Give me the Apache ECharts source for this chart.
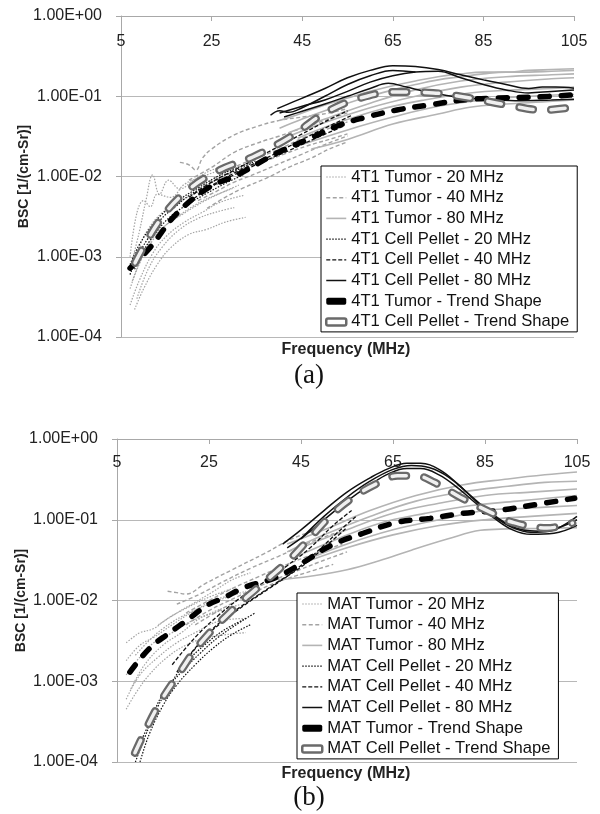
<!DOCTYPE html>
<html>
<head>
<meta charset="utf-8">
<script src="https://cdn.jsdelivr.net/npm/echarts@6/dist/echarts.min.js"></script>
<style>
  html, body { margin: 0; padding: 0; background: #fff; }
  #chart { width: 600px; height: 814px; }
</style>
</head>
<body>
<div id="chart"></div>
<script>
// axis ticks
const freqTicks = [5, 25, 45, 65, 85, 105];
const bscTickLabels = ['1.00E-04', '1.00E-03', '1.00E-02', '1.00E-01', '1.00E+00'];

// ---- panel (a): 4T1, [freq MHz, BSC] per curve ----
const tumor20A = [
  [[7, 0.0007], [9, 0.002], [10.5, 0.005], [12, 0.0105], [13.5, 0.006], [15.5, 0.009], [18, 0.007], [21, 0.009], [25, 0.012], [29, 0.014]],
  [[7, 0.001], [8.5, 0.0035], [10, 0.005], [11.5, 0.0042], [13, 0.006], [16, 0.0055], [19, 0.008], [23, 0.01], [27, 0.012]],
  [[7, 0.0004], [9, 0.0008], [12, 0.0016], [15, 0.0025], [19, 0.0035], [23, 0.0048], [27, 0.0062], [31, 0.0078]],
  [[7, 0.00025], [9, 0.0005], [12, 0.0011], [15, 0.0018], [19, 0.0027], [23, 0.0036], [27, 0.0048], [32, 0.0058]],
  [[8, 0.00022], [10, 0.0004], [13, 0.0008], [16, 0.0013], [20, 0.0019], [24, 0.0022], [28, 0.0027], [32.5, 0.0031]],
  [[7.5, 0.0005], [10, 0.0011], [13, 0.002], [17, 0.003], [21, 0.0043], [25, 0.0056], [30, 0.0072]],
  [[8.5, 0.0003], [11, 0.0007], [14, 0.0013], [18, 0.0022], [22, 0.003], [26, 0.0036], [30, 0.0041]],
  [[7, 0.0006], [9, 0.0013], [11, 0.0022], [14, 0.0035], [17, 0.0045], [21, 0.006], [25, 0.0075], [29, 0.009]]
];
const tumor40A = [
  [[18, 0.015], [20, 0.014], [21.5, 0.012], [23, 0.017], [25, 0.022], [30, 0.033], [35, 0.042], [40, 0.05], [46, 0.056], [51, 0.062], [55, 0.07]],
  [[20, 0.009], [25, 0.013], [30, 0.02], [35, 0.026], [40, 0.032], [45, 0.04], [50, 0.05], [55, 0.062]],
  [[21, 0.006], [25, 0.009], [30, 0.013], [35, 0.017], [40, 0.022], [45, 0.03], [50, 0.038], [55, 0.048]],
  [[22, 0.005], [26, 0.0065], [30, 0.0085], [35, 0.011], [40, 0.0145], [45, 0.019], [50, 0.025], [55, 0.032]],
  [[24, 0.004], [28, 0.0055], [32, 0.0072], [37, 0.0095], [42, 0.013], [47, 0.017], [51, 0.022], [55, 0.027]],
  [[22, 0.007], [26, 0.009], [31, 0.012], [36, 0.015], [41, 0.019], [46, 0.024], [51, 0.029], [55, 0.034]]
];
const tumor80A = [
  [[40, 0.05], [45, 0.062], [50, 0.078], [55, 0.095], [60, 0.115], [65, 0.135], [70, 0.155], [75, 0.175], [80, 0.19], [85, 0.2], [90, 0.2], [95, 0.21], [100, 0.215], [105, 0.22]],
  [[40, 0.04], [45, 0.052], [50, 0.066], [55, 0.082], [60, 0.1], [65, 0.12], [70, 0.14], [75, 0.16], [80, 0.175], [85, 0.19], [90, 0.2], [95, 0.2], [100, 0.205], [105, 0.21]],
  [[42, 0.035], [50, 0.052], [60, 0.082], [70, 0.12], [80, 0.155], [90, 0.175], [100, 0.185], [105, 0.19]],
  [[41, 0.03], [50, 0.047], [60, 0.072], [70, 0.1], [80, 0.13], [90, 0.15], [100, 0.165], [105, 0.17]],
  [[44, 0.03], [52, 0.045], [62, 0.068], [72, 0.09], [82, 0.11], [92, 0.12], [100, 0.125], [105, 0.13]],
  [[45, 0.025], [55, 0.038], [65, 0.055], [75, 0.075], [85, 0.09], [95, 0.1], [105, 0.105]],
  [[47, 0.022], [55, 0.029], [65, 0.045], [75, 0.06], [82, 0.073], [90, 0.08], [98, 0.085], [105, 0.09]]
];
const pellet20A = [
  [[7, 0.0006], [9, 0.0011], [11, 0.0017], [14, 0.003], [17, 0.0042], [20, 0.0058], [24, 0.0078], [28, 0.0105], [32, 0.013], [35, 0.016]],
  [[7, 0.0008], [9, 0.0014], [12, 0.0025], [15, 0.0038], [18, 0.0052], [22, 0.0072], [26, 0.0098], [30, 0.0125], [34, 0.015]],
  [[8, 0.0007], [10, 0.0012], [13, 0.0021], [16, 0.0032], [20, 0.0046], [24, 0.0062], [28, 0.0082], [32, 0.0105]]
];
const pellet40A = [
  [[20, 0.0055], [25, 0.0085], [30, 0.012], [35, 0.017], [40, 0.024], [45, 0.034], [50, 0.048], [55, 0.066]],
  [[22, 0.006], [27, 0.009], [32, 0.0125], [38, 0.018], [44, 0.027], [50, 0.04], [56, 0.058]],
  [[20, 0.0048], [25, 0.0075], [30, 0.0105], [36, 0.015], [42, 0.021], [48, 0.03], [54, 0.042]]
];
const pellet80A = [
  [[39.5, 0.07], [43, 0.085], [46, 0.1], [50, 0.125], [55, 0.17], [60, 0.21], [65, 0.24], [70, 0.235], [75, 0.215], [80, 0.185], [85, 0.16], [90, 0.14], [95, 0.125], [98, 0.13], [101, 0.13], [105, 0.126]],
  [[40, 0.062], [45, 0.075], [50, 0.09], [55, 0.115], [60, 0.15], [65, 0.18], [70, 0.2], [75, 0.205], [80, 0.17], [85, 0.14], [90, 0.12], [95, 0.11], [100, 0.115], [105, 0.12]],
  [[41, 0.055], [45, 0.065], [50, 0.08], [55, 0.1], [60, 0.125], [64, 0.145], [68, 0.13], [72, 0.115], [78, 0.1], [85, 0.092], [92, 0.088], [100, 0.09], [105, 0.092]],
  [[38, 0.058], [40, 0.066], [42, 0.063], [45, 0.072], [50, 0.1], [55, 0.14], [60, 0.18], [65, 0.21], [70, 0.2]]
];
const trendTumorA = [[7, 0.00072], [11.4, 0.0013], [17.4, 0.0035], [24.6, 0.0074], [30.6, 0.0104], [39.4, 0.0196], [47.4, 0.031], [53.3, 0.0438], [58.4, 0.0536], [65.9, 0.0674], [73.2, 0.078], [80.5, 0.0898], [88, 0.095], [96.8, 0.098], [104.8, 0.104]];
const trendPelletA = [[8.1, 0.00084], [13.6, 0.00287], [19.8, 0.0068], [26.9, 0.0121], [34.1, 0.0175], [42.3, 0.031], [50, 0.0618], [57.8, 0.095], [65.9, 0.113], [73.9, 0.11], [82, 0.095], [90.2, 0.078], [98.2, 0.0675], [104.8, 0.073]];

// ---- panel (b): MAT ----
const tumor20B = [
  [[7, 0.003], [8.5, 0.0035], [10, 0.004], [13, 0.0045], [16, 0.006], [20, 0.008], [25, 0.011], [30, 0.014]],
  [[7, 0.0018], [10, 0.0028], [13, 0.0035], [17, 0.005], [21, 0.007], [26, 0.01], [31, 0.012]],
  [[7, 0.0012], [10, 0.002], [13, 0.003], [17, 0.004], [21, 0.0055], [26, 0.007], [32, 0.009]],
  [[7, 0.0006], [10, 0.0012], [14, 0.002], [18, 0.003], [22, 0.004], [27, 0.0055], [33, 0.006]],
  [[7, 0.00045], [9, 0.0007], [12, 0.0012], [16, 0.002], [20, 0.0028], [25, 0.0035], [33, 0.004]],
  [[8, 0.0008], [11, 0.0016], [15, 0.0028], [19, 0.004], [23, 0.006], [28, 0.008]],
  [[9, 0.0021], [12, 0.0032], [15, 0.0045], [19, 0.0063], [24, 0.0085], [29, 0.011], [33, 0.013]],
  [[14, 0.005], [18, 0.007], [22, 0.0095], [26, 0.013], [30, 0.018], [34, 0.022]]
];
const tumor40B = [
  [[16, 0.013], [18, 0.0125], [20, 0.012], [24, 0.016], [30, 0.024], [37, 0.038], [43, 0.058], [50, 0.08]],
  [[18, 0.009], [23, 0.012], [28, 0.017], [34, 0.025], [40, 0.035], [46, 0.05], [53, 0.07]],
  [[20, 0.007], [25, 0.01], [30, 0.014], [36, 0.02], [42, 0.028], [48, 0.038], [54, 0.05]],
  [[20, 0.005], [25, 0.0075], [31, 0.011], [37, 0.016], [43, 0.022], [49, 0.03], [55, 0.04]],
  [[22, 0.005], [28, 0.008], [34, 0.012], [40, 0.017], [46, 0.022], [52, 0.028]]
];
const tumor80B = [
  [[42, 0.05], [50, 0.075], [60, 0.13], [70, 0.2], [80, 0.27], [90, 0.32], [98, 0.36], [105, 0.39]],
  [[42, 0.04], [50, 0.065], [60, 0.11], [70, 0.17], [80, 0.22], [90, 0.26], [98, 0.29], [105, 0.3]],
  [[45, 0.045], [55, 0.075], [65, 0.12], [75, 0.16], [85, 0.2], [95, 0.22], [105, 0.24]],
  [[44, 0.035], [52, 0.055], [62, 0.09], [72, 0.12], [82, 0.15], [92, 0.17], [105, 0.2]],
  [[45, 0.03], [55, 0.05], [65, 0.075], [75, 0.1], [85, 0.13], [95, 0.14], [105, 0.15]],
  [[46, 0.03], [55, 0.045], [65, 0.065], [75, 0.085], [85, 0.1], [95, 0.11], [105, 0.12]],
  [[40, 0.018], [47, 0.02], [55, 0.024], [62, 0.031], [69, 0.042], [77, 0.058], [84, 0.074], [90, 0.077], [97, 0.078], [105, 0.08]]
];
const pellet20B = [
  [[9, 0.0001], [11, 0.0002], [14, 0.0005], [17, 0.001], [20, 0.0017], [24, 0.0028], [28, 0.0042], [33, 0.006]],
  [[10, 0.0001], [12, 0.00022], [15, 0.0005], [18, 0.0009], [22, 0.0016], [26, 0.0026], [30, 0.0038], [34, 0.005]],
  [[9, 0.00013], [12, 0.0003], [15, 0.0007], [19, 0.0013], [23, 0.0022], [27, 0.0035], [32, 0.0055], [35, 0.007]]
];
const pellet40B = [
  [[17, 0.0016], [22, 0.0035], [27, 0.0065], [32, 0.011], [37, 0.017], [42, 0.027], [47, 0.045], [52, 0.085], [56, 0.13]],
  [[18, 0.0013], [23, 0.003], [28, 0.0055], [33, 0.009], [38, 0.014], [43, 0.022], [48, 0.038], [53, 0.07], [57, 0.11]],
  [[20, 0.0018], [25, 0.004], [30, 0.007], [35, 0.011], [40, 0.017], [45, 0.026], [50, 0.045], [55, 0.08]]
];
const pellet80B = [
  [[41, 0.05], [45, 0.075], [50, 0.13], [55, 0.22], [60, 0.33], [64, 0.43], [68, 0.5], [71, 0.5], [75, 0.42], [79, 0.28], [83, 0.17], [87, 0.11], [91, 0.08], [95, 0.07], [99, 0.072], [102, 0.085], [105, 0.11]],
  [[42, 0.045], [46, 0.065], [50, 0.1], [55, 0.17], [60, 0.27], [64, 0.37], [68, 0.43], [71, 0.43], [75, 0.36], [79, 0.25], [83, 0.16], [87, 0.105], [91, 0.075], [95, 0.066], [100, 0.068], [105, 0.085]],
  [[45, 0.058], [50, 0.11], [55, 0.19], [60, 0.3], [65, 0.42], [69, 0.47], [73, 0.44], [77, 0.34], [81, 0.22], [85, 0.14], [89, 0.095], [93, 0.075], [97, 0.072], [101, 0.08], [105, 0.1]]
];
const trendTumorB = [[7.8, 0.0013], [12.2, 0.0026], [16.5, 0.004], [20.2, 0.0057], [24.6, 0.0087], [28.5, 0.011], [32.8, 0.0146], [39.3, 0.019], [45.2, 0.029], [51.5, 0.048], [58.5, 0.068], [65.9, 0.093], [73, 0.104], [80.2, 0.12], [87.6, 0.13], [94.8, 0.15], [104.5, 0.185]];
const trendPelletB = [[8.9, 0.00013], [13.7, 0.00047], [18.7, 0.0013], [23, 0.0029], [29.6, 0.0072], [35.7, 0.0146], [42.2, 0.031], [47, 0.06], [52, 0.12], [57, 0.2], [62, 0.29], [66, 0.35], [70, 0.35], [74, 0.29], [79.6, 0.19], [86.7, 0.12], [91, 0.093], [98.5, 0.079], [104, 0.091]];

const GRAY = '#a3a3a3';
const BLACK = '#111';

const styles = {
  t20: { color: GRAY, width: 1.2, type: [1.5, 1.5] },
  t40: { color: GRAY, width: 1.4, type: [4, 2.5] },
  t80: { color: '#b4b4b4', width: 1.6, type: 'solid' },
  p20: { color: BLACK, width: 1.2, type: [1.5, 1.5] },
  p40: { color: BLACK, width: 1.3, type: [4, 2] },
  p80: { color: BLACK, width: 1.5, type: 'solid' }
};

function group(name, curves, idx, lineStyle) {
  return curves.map(c => ({
    name: name,
    type: 'line',
    xAxisIndex: idx,
    yAxisIndex: idx,
    data: c,
    smooth: 0.4,
    symbol: 'none',
    silent: true,
    lineStyle: lineStyle
  }));
}

function trends(prefix, tumorData, pelletData, idx) {
  return [
    {
      name: prefix + ' Tumor - Trend Shape', type: 'line', xAxisIndex: idx, yAxisIndex: idx,
      data: tumorData, smooth: 0.4, symbol: 'none', silent: true, z: 5,
      lineStyle: { color: '#000', width: 5.5, type: [9, 12], cap: 'round' }
    },
    {
      name: prefix + ' Cell Pellet - Trend Shape', type: 'line', xAxisIndex: idx, yAxisIndex: idx,
      data: pelletData, smooth: 0.4, symbol: 'none', silent: true, z: 6,
      lineStyle: { color: '#6a6a6a', width: 8, type: [14, 18], cap: 'round' }
    },
    {
      name: prefix + ' pellet trend inner', type: 'line', xAxisIndex: idx, yAxisIndex: idx,
      data: pelletData, smooth: 0.4, symbol: 'none', silent: true, z: 7,
      lineStyle: { color: '#fff', width: 3.5, type: [14, 18], cap: 'round', opacity: 0.9 }
    }
  ];
}

function panelSeries(prefix, idx, d) {
  return [].concat(
    group(prefix + ' Tumor - 20 MHz', d.t20, idx, styles.t20),
    group(prefix + ' Tumor - 40 MHz', d.t40, idx, styles.t40),
    group(prefix + ' Tumor - 80 MHz', d.t80, idx, styles.t80),
    group(prefix + ' Cell Pellet - 20 MHz', d.p20, idx, styles.p20),
    group(prefix + ' Cell Pellet - 40 MHz', d.p40, idx, styles.p40),
    group(prefix + ' Cell Pellet - 80 MHz', d.p80, idx, styles.p80),
    trends(prefix, d.tt, d.tp, idx)
  );
}

function legendFor(prefix, left, top) {
  const names = ['Tumor - 20 MHz', 'Tumor - 40 MHz', 'Tumor - 80 MHz',
    'Cell Pellet - 20 MHz', 'Cell Pellet - 40 MHz', 'Cell Pellet - 80 MHz'];
  const data = names.map(n => ({ name: prefix + ' ' + n }));
  data.push({ name: prefix + ' Tumor - Trend Shape', icon: 'roundRect',
    itemStyle: { color: '#000', opacity: 1, borderWidth: 0 } });
  data.push({ name: prefix + ' Cell Pellet - Trend Shape', icon: 'roundRect',
    itemStyle: { color: '#fff', borderColor: '#6a6a6a', borderWidth: 2.5, opacity: 1 } });
  return {
    orient: 'vertical', left: left, top: top,
    backgroundColor: '#fff', borderColor: '#000', borderWidth: 1,
    padding: [1, 8, 0, 4], itemGap: 0.7, itemWidth: 20, itemHeight: 7,
    selectedMode: false,
    itemStyle: { opacity: 0 },
    lineStyle: { width: 'inherit' },
    textStyle: { fontFamily: 'Liberation Sans', fontSize: 16.6, color: '#111', lineHeight: 20 },
    data: data
  };
}

function xAxisFor(gridIndex, margin) {
  return {
    gridIndex: gridIndex, type: 'value', position: 'top', min: 5, max: 105,
    axisLine: { show: true, lineStyle: { color: '#a8a8a8', width: 1 } },
    axisTick: { show: true, inside: true, length: 5, customValues: freqTicks, lineStyle: { color: '#a8a8a8' } },
    axisLabel: { inside: true, margin: margin, customValues: freqTicks, color: '#222',
      fontFamily: 'Liberation Sans', fontSize: 16 },
    splitLine: { show: false }
  };
}

function yAxisFor(gridIndex, nameGap) {
  return {
    gridIndex: gridIndex, type: 'log', logBase: 10, min: 0.0001, max: 1,
    name: 'BSC [1/(cm-Sr)]', nameLocation: 'middle', nameGap: nameGap, nameMoveOverlap: false,
    nameTextStyle: { fontFamily: 'Liberation Sans', fontWeight: 'bold', fontSize: 14, color: '#222' },
    axisLine: { show: true, lineStyle: { color: '#a8a8a8', width: 1 } },
    axisTick: { show: true, length: 5, lineStyle: { color: '#a8a8a8' } },
    axisLabel: { margin: 19, color: '#222', fontFamily: 'Liberation Sans', fontSize: 16,
      formatter: v => bscTickLabels[Math.round(Math.log10(v)) + 4] },
    splitLine: { show: true, lineStyle: { color: '#b8b8b8', width: 1 } }
  };
}

const chart = echarts.init(document.getElementById('chart'), null, { renderer: 'canvas' });

const option = {
  animation: false,
  backgroundColor: '#fff',
  grid: [
    { left: 121, top: 16, width: 453, height: 321 },
    { left: 117, top: 439, width: 460, height: 323 }
  ],
  xAxis: [xAxisFor(0, 18), xAxisFor(1, 16)],
  yAxis: [yAxisFor(0, 90), yAxisFor(1, 89)],
  legend: [legendFor('4T1', 321, 166), legendFor('MAT', 297, 593)],
  graphic: [
    { type: 'text', x: 346, y: 350, style: { text: 'Frequency (MHz)', fontFamily: 'Liberation Sans',
      fontWeight: 'bold', fontSize: 16, fill: '#222', textAlign: 'center', textVerticalAlign: 'middle' } },
    { type: 'text', x: 309, y: 376, style: { text: '(a)', fontFamily: 'Liberation Serif',
      fontSize: 27, fill: '#111', textAlign: 'center', textVerticalAlign: 'middle' } },
    { type: 'text', x: 346, y: 774, style: { text: 'Frequency (MHz)', fontFamily: 'Liberation Sans',
      fontWeight: 'bold', fontSize: 16, fill: '#222', textAlign: 'center', textVerticalAlign: 'middle' } },
    { type: 'text', x: 309, y: 798, style: { text: '(b)', fontFamily: 'Liberation Serif',
      fontSize: 27, fill: '#111', textAlign: 'center', textVerticalAlign: 'middle' } }
  ],
  series: [].concat(
    panelSeries('4T1', 0, { t20: tumor20A, t40: tumor40A, t80: tumor80A, p20: pellet20A,
      p40: pellet40A, p80: pellet80A, tt: trendTumorA, tp: trendPelletA }),
    panelSeries('MAT', 1, { t20: tumor20B, t40: tumor40B, t80: tumor80B, p20: pellet20B,
      p40: pellet40B, p80: pellet80B, tt: trendTumorB, tp: trendPelletB })
  )
};

chart.setOption(option);
</script>
</body>
</html>
